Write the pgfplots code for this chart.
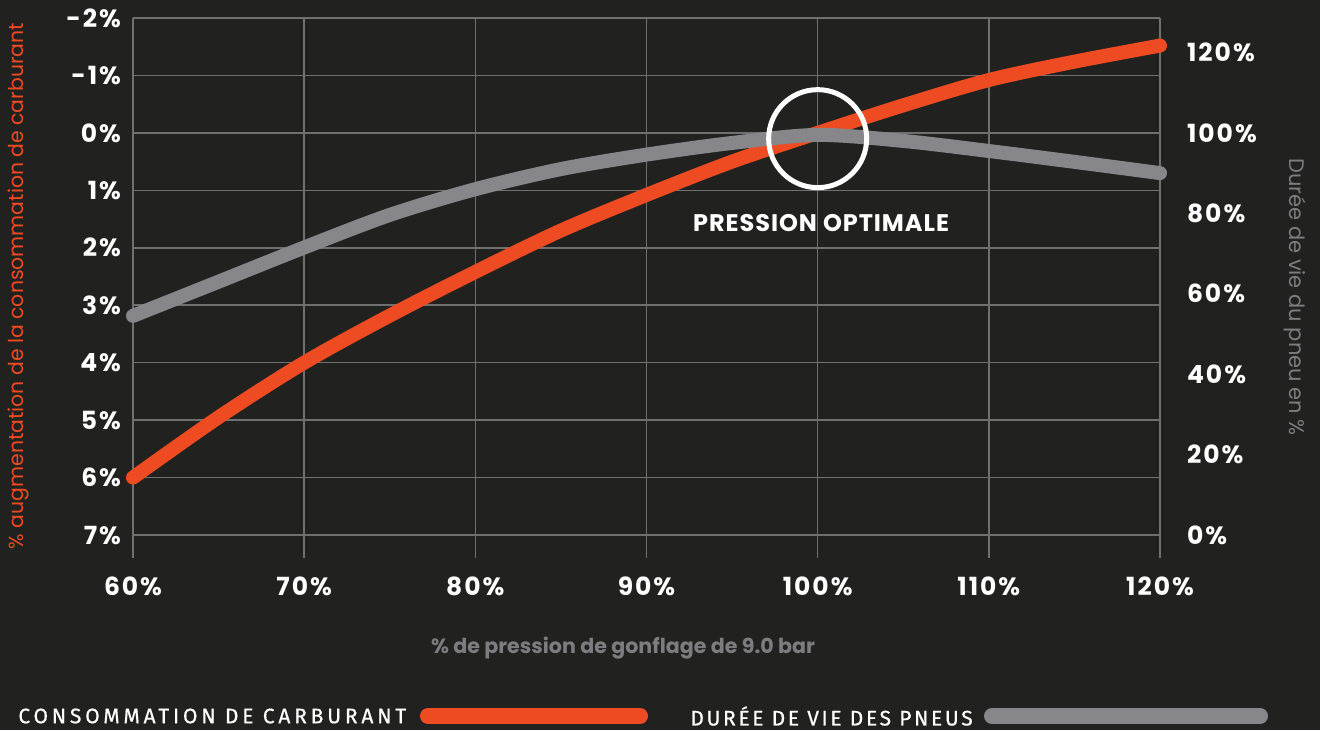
\documentclass[border=0pt]{standalone}
\usepackage{pgfplots}
\pgfplotsset{compat=1.18}
\usepackage{fontspec}
\setmainfont{Poppins}
\newfontfamily\tickfont[LetterSpace=8]{Poppins}
\newfontfamily\annfont[LetterSpace=4]{Poppins}
\newfontfamily\legendfontA[LetterSpace=18,FakeBold=0.6]{Fira Sans}
\newfontfamily\legendfontB[LetterSpace=12.5,FakeBold=0.6]{Fira Sans}
\definecolor{bg}{RGB}{33,34,32}
\definecolor{gridc}{RGB}{112,112,112}
\definecolor{orangec}{RGB}{238,75,34}
\definecolor{grayc}{RGB}{135,135,139}
\definecolor{labgray}{RGB}{125,125,128}
\begin{document}
\begin{tikzpicture}
\fill[bg] (0,0) rectangle (660pt,365pt);
\begin{axis}[
  at={(66.5pt,86pt)}, anchor=south west,
  scale only axis, width=513.5pt, height=270pt,
  xmin=60, xmax=120, ymin=-2, ymax=7.4, y dir=reverse,
  xtick={60,70,...,120},
  xticklabels={60\%,70\%,80\%,90\%,100\%,110\%,120\%},
  ytick={-2,-1,0,1,2,3,4,5,6,7},
  yticklabels={-2\%,-1\%,0\%,1\%,2\%,3\%,4\%,5\%,6\%,7\%},
  grid=major, grid style={color=gridc, line width=0.8pt},
  axis line style={draw=none}, major tick length=0pt,
  tick label style={color=white, font=\tickfont\bfseries\fontsize{12.5}{14}\selectfont},
  yticklabel style={xshift=-2.5pt},
  xticklabel style={yshift=-6pt},
  clip=false,
]
\addplot[orangec, line width=7pt, line cap=round, smooth] coordinates {
(60,6.0) (65,4.95) (70,4.0) (75,3.18) (80,2.42) (85,1.7) (90,1.08) (95,0.5) (100,0) (105,-0.48) (110,-0.92) (115,-1.24) (120,-1.52)};
\end{axis}
\begin{axis}[
  at={(66.5pt,86pt)}, anchor=south west,
  scale only axis, width=513.5pt, height=270pt,
  xmin=60, xmax=120, ymin=-5.7143, ymax=128.5714,
  hide x axis, axis y line*=right,
  axis line style={draw=none}, major tick length=0pt,
  ytick={0,20,...,120},
  yticklabels={0\%,20\%,40\%,60\%,80\%,100\%,120\%},
  tick label style={color=white, font=\tickfont\bfseries\fontsize{12.5}{14}\selectfont},
  yticklabel style={anchor=west, xshift=10pt},
  clip=false,
]
\addplot[grayc, line width=7pt, line cap=round, smooth] coordinates {
(60,54.5) (65,63) (70,71.5) (75,79.6) (80,86.0) (85,91.0) (90,94.6) (95,97.5) (100,99.5) (105,98.0) (110,95.5) (115,92.8) (120,90)};
\draw[white, line width=2.5pt] (axis cs:100,98.57) circle[radius=24.5pt];
\node[white, font=\annfont\bfseries\fontsize{12}{14}\selectfont] at (axis cs:100.2,77.6) {PRESSION OPTIMALE};
\end{axis}
% axis titles
\node[orangec, rotate=90, font=\fontsize{10.2}{12}\selectfont] at (9pt,222pt) {\% augmentation de la consommation de carburant};
\node[labgray, rotate=-90, font=\fontsize{10.5}{12}\selectfont] at (647.5pt,216.5pt) {Durée de vie du pneu en \%};
\node[labgray, font=\bfseries\fontsize{10.3}{12}\selectfont] at (311.5pt,41pt) {\% de pression de gonflage de 9.0 bar};
% legend
\node[white, anchor=west, inner sep=0pt, font=\legendfontA\fontsize{10.5}{12}\selectfont] at (9pt,7pt) {CONSOMMATION DE CARBURANT};
\draw[orangec, line width=8pt, line cap=round] (214pt,7pt) -- (320pt,7pt);
\node[white, anchor=west, inner sep=0pt, font=\legendfontB\fontsize{10.5}{12}\selectfont] at (345pt,7pt) {DURÉE DE VIE DES PNEUS};
\draw[grayc, line width=8pt, line cap=round] (496pt,7pt) -- (630pt,7pt);
\pgfresetboundingbox
\path (0,0) rectangle (660pt,365pt);
\end{tikzpicture}
\end{document}
